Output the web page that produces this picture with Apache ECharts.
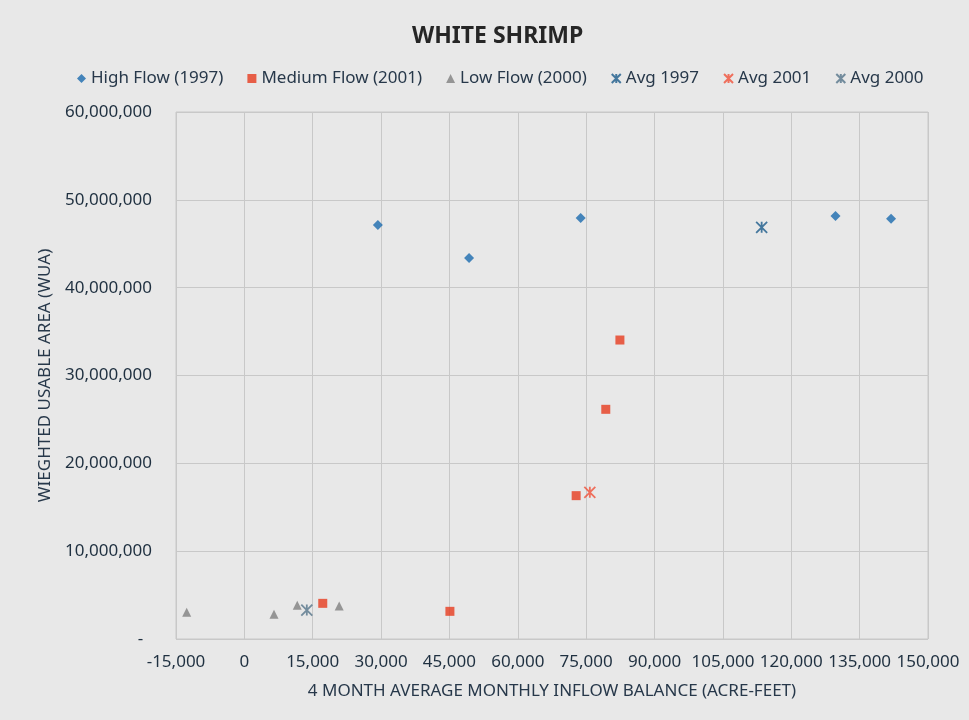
<!DOCTYPE html>
<html>
<head>
<meta charset="utf-8">
<script src="https://cdn.jsdelivr.net/npm/echarts@6/dist/echarts.min.js"></script>
<style>
html,body{margin:0;padding:0;background:#E8E8E8;}
#chart{width:969px;height:720px;}
</style>
</head>
<body>
<div id="chart"></div>
<script>
const highFlowX = [29300, 49300, 73800, 129700, 141900];
const highFlowY = [47140000, 43380000, 47930000, 48160000, 47850000];
const mediumFlowX = [82400, 79300, 72800, 17200, 45100];
const mediumFlowY = [34040000, 26150000, 16320000, 4060000, 3150000];
const lowFlowX = [-12650, 6500, 11600, 20800];
const lowFlowY = [3040000, 2810000, 3840000, 3760000];
const avg1997 = [113500, 46870000];
const avg2001 = [75800, 16700000];
const avg2000 = [13700, 3300000];
const seriesNames = ['High Flow (1997)', 'Medium Flow (2001)', 'Low Flow (2000)', 'Avg 1997', 'Avg 2001', 'Avg 2000'];

const FONT = "'Noto Sans', sans-serif";
const star = 'path://M0,0 L10,10 M10,0 L0,10 M5,0 L5,10';
function pairs(xs, ys){ return xs.map((x,i)=>[x, ys[i]]); }
function fmtNum(v){ return v.toLocaleString('en-US'); }

const chart = echarts.init(document.getElementById('chart'));
chart.setOption({
  backgroundColor: '#E8E8E8',
  animation: false,
  textStyle: {fontFamily: FONT},
  title: {
    text: 'WHITE SHRIMP', left: 407, top: 20,
    textStyle: {fontFamily: FONT, fontWeight: 'bold', fontSize: 23, color: '#262626'}
  },
  legend: {
    top: 65, left: 72, itemWidth: 9, itemHeight: 9, itemGap: 24,
    textStyle: {fontFamily: FONT, fontSize: 17, color: '#27384A'},
    data: seriesNames
  },
  grid: {left: 176, right: 41, top: 112, bottom: 81, show: true, borderColor: '#C8C8C8', borderWidth: 1},
  xAxis: {
    type: 'value', min: -15000, max: 150000, interval: 15000,
    name: '4 MONTH AVERAGE MONTHLY INFLOW BALANCE (ACRE-FEET)', nameLocation: 'middle', nameGap: 44,
    nameTextStyle: {fontFamily: FONT, fontSize: 17, color: '#27384A'},
    axisLine: {show: false}, axisTick: {show: false},
    axisLabel: {fontFamily: FONT, fontSize: 17, color: '#1F3040', margin: 15, formatter: fmtNum},
    splitLine: {show: true, lineStyle: {color: '#C8C8C8', width: 1}}
  },
  yAxis: {
    type: 'value', min: 0, max: 60000000, interval: 10000000,
    name: 'WIEGHTED USABLE AREA (WUA)', nameLocation: 'middle', nameGap: 122,
    nameTextStyle: {fontFamily: FONT, fontSize: 17, color: '#27384A'},
    axisLine: {show: false}, axisTick: {show: false},
    axisLabel: {fontFamily: FONT, fontSize: 17, color: '#1F3040', margin: 24,
      formatter: v => v === 0 ? '-  ' : fmtNum(v)},
    splitLine: {show: true, lineStyle: {color: '#C8C8C8', width: 1}}
  },
  series: [
    {name: seriesNames[0], type: 'scatter', symbol: 'diamond', symbolSize: 10,
     itemStyle: {color: '#1A6AAE'}, data: pairs(highFlowX, highFlowY)},
    {name: seriesNames[1], type: 'scatter', symbol: 'rect', symbolSize: 9,
     itemStyle: {color: '#E63B1E'}, data: pairs(mediumFlowX, mediumFlowY)},
    {name: seriesNames[2], type: 'scatter', symbol: 'triangle', symbolSize: 9,
     itemStyle: {color: '#808080'}, data: pairs(lowFlowX, lowFlowY)},
    {name: seriesNames[3], type: 'scatter', symbol: star, symbolSize: 11,
     itemStyle: {color: 'rgba(0,0,0,0)', borderColor: '#1A5A8A', borderWidth: 1.8}, data: [avg1997]},
    {name: seriesNames[4], type: 'scatter', symbol: star, symbolSize: 11,
     itemStyle: {color: 'rgba(0,0,0,0)', borderColor: '#F05038', borderWidth: 1.8}, data: [avg2001]},
    {name: seriesNames[5], type: 'scatter', symbol: star, symbolSize: 11,
     itemStyle: {color: 'rgba(0,0,0,0)', borderColor: '#557489', borderWidth: 1.8}, data: [avg2000]}
  ]
});
</script>
</body>
</html>
